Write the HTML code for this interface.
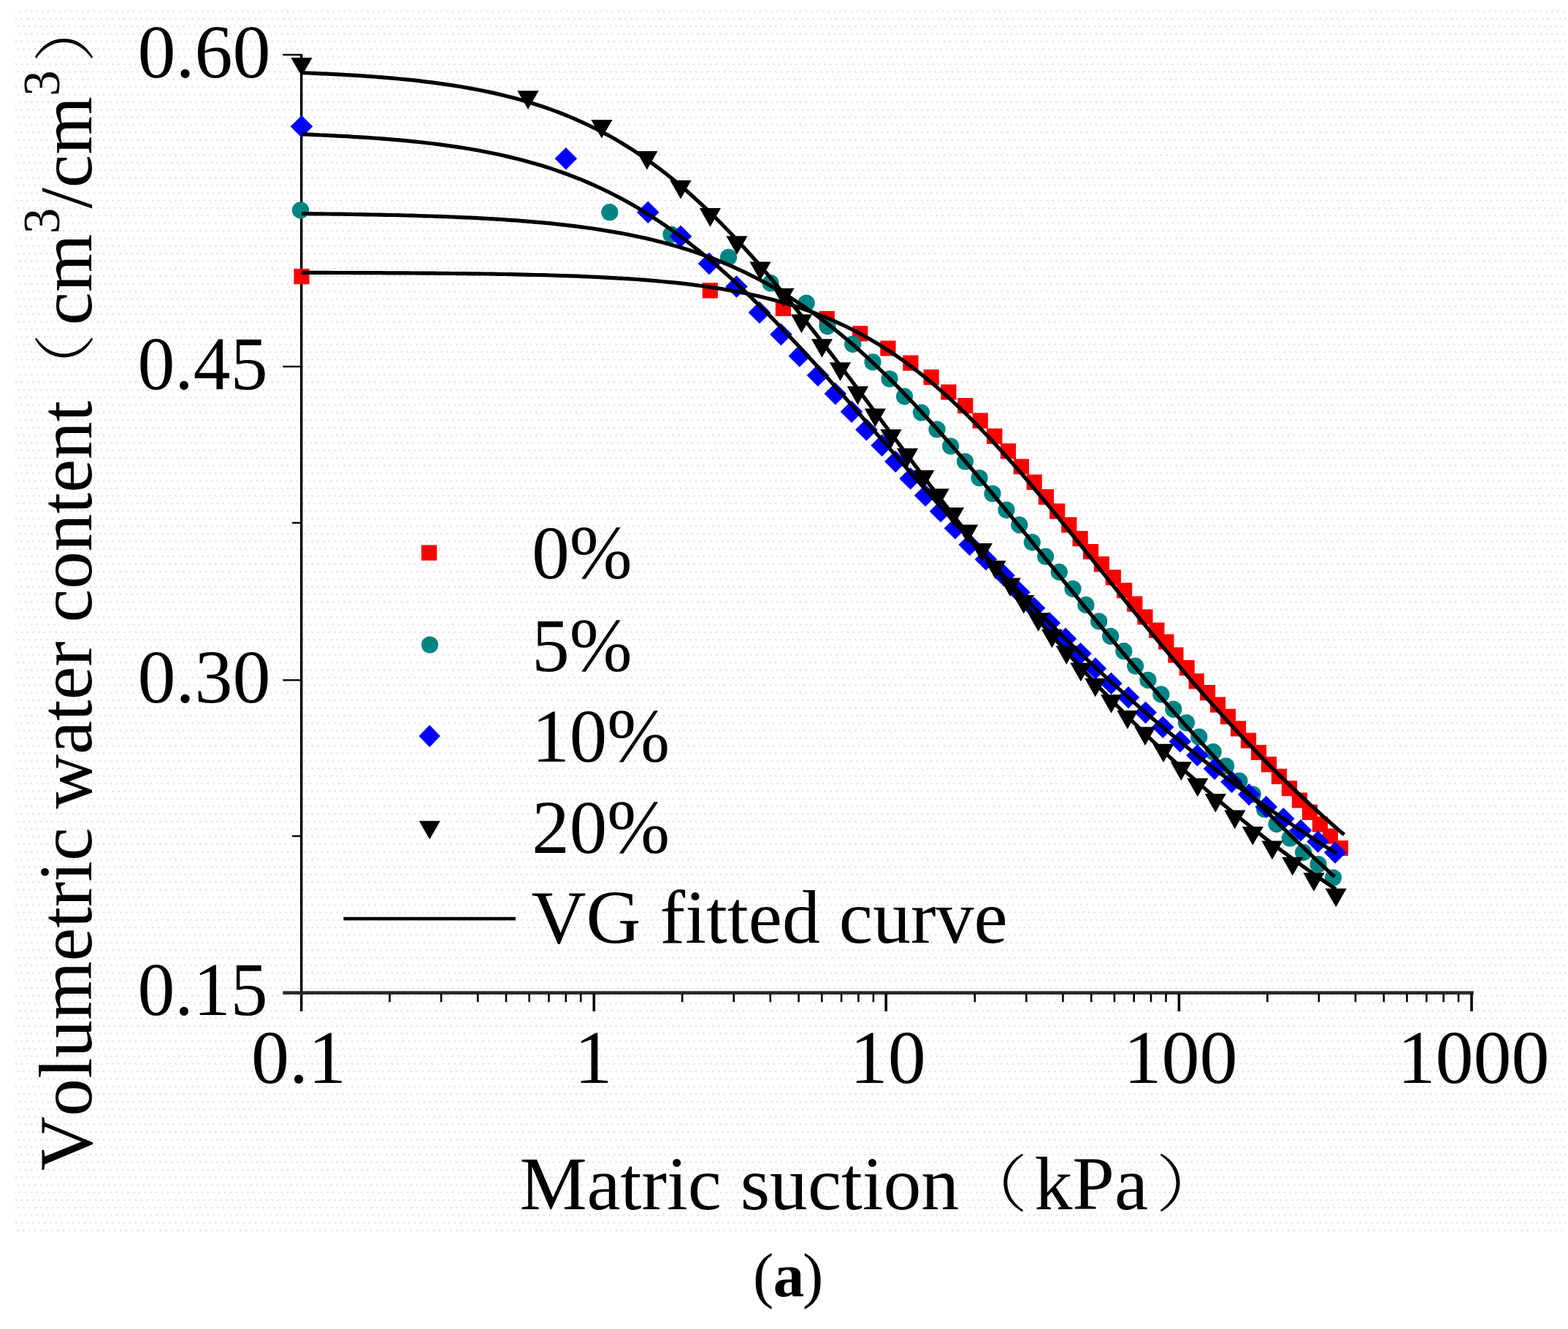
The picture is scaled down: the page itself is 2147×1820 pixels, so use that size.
<!DOCTYPE html>
<html><head><meta charset="utf-8"><title>Volumetric water content vs matric suction</title>
<style>
html,body{margin:0;padding:0;background:#fff;}
body{width:2147px;height:1820px;overflow:hidden;position:relative;}
svg{position:absolute;left:0;top:0;display:block;}
svg text{font-kerning:none;font-feature-settings:"kern" 0;}
</style></head><body>
<svg width="2147" height="1820" viewBox="0 0 2147 1820" font-family="'Liberation Serif', 'Times New Roman', serif">
<defs>
<pattern id="dots" x="0" y="0" width="7.8" height="31.11" patternUnits="userSpaceOnUse">
<rect x="2.55" y="14.05" width="2.7" height="2.7" fill="#e8e8e8"/>
<rect x="5.2" y="24.42" width="2.6" height="2.7" fill="#e8e8e8"/>
<rect x="0.05" y="3.68" width="2.7" height="2.7" fill="#e8e8e8"/>
</pattern>
</defs>
<rect x="0" y="0" width="2147" height="1820" fill="#ffffff"/>
<g fill="#000"><rect x="411" y="74" width="3.4" height="1311"/><rect x="387.3" y="1357.3" width="1630.4" height="4.6" fill="#2a2428"/><rect x="387.3" y="73.8" width="25" height="2.4"/><rect x="387.3" y="500.8" width="25" height="2.4"/><rect x="387.3" y="930.2" width="25" height="2.4"/><rect x="400" y="287.4" width="12" height="2.4"/><rect x="400" y="714.8" width="12" height="2.4"/><rect x="400" y="1143.8" width="12" height="2.4"/><rect x="532.3" y="1361" width="2.6" height="11.3"/><rect x="602.8" y="1361" width="2.6" height="11.3"/><rect x="652.9" y="1361" width="2.6" height="11.3"/><rect x="691.7" y="1361" width="2.6" height="11.3"/><rect x="723.4" y="1361" width="2.6" height="11.3"/><rect x="750.2" y="1361" width="2.6" height="11.3"/><rect x="773.5" y="1361" width="2.6" height="11.3"/><rect x="794" y="1361" width="2.6" height="11.3"/><rect x="932.9" y="1361" width="2.6" height="11.3"/><rect x="1003.4" y="1361" width="2.6" height="11.3"/><rect x="1053.5" y="1361" width="2.6" height="11.3"/><rect x="1092.3" y="1361" width="2.6" height="11.3"/><rect x="1124" y="1361" width="2.6" height="11.3"/><rect x="1150.8" y="1361" width="2.6" height="11.3"/><rect x="1174.1" y="1361" width="2.6" height="11.3"/><rect x="1194.6" y="1361" width="2.6" height="11.3"/><rect x="1333.5" y="1361" width="2.6" height="11.3"/><rect x="1404" y="1361" width="2.6" height="11.3"/><rect x="1454.1" y="1361" width="2.6" height="11.3"/><rect x="1492.9" y="1361" width="2.6" height="11.3"/><rect x="1524.6" y="1361" width="2.6" height="11.3"/><rect x="1551.4" y="1361" width="2.6" height="11.3"/><rect x="1574.7" y="1361" width="2.6" height="11.3"/><rect x="1595.2" y="1361" width="2.6" height="11.3"/><rect x="1734.1" y="1361" width="2.6" height="11.3"/><rect x="1804.6" y="1361" width="2.6" height="11.3"/><rect x="1854.7" y="1361" width="2.6" height="11.3"/><rect x="1893.5" y="1361" width="2.6" height="11.3"/><rect x="1925.2" y="1361" width="2.6" height="11.3"/><rect x="1952" y="1361" width="2.6" height="11.3"/><rect x="1975.3" y="1361" width="2.6" height="11.3"/><rect x="1995.8" y="1361" width="2.6" height="11.3"/><rect x="811.5" y="1361" width="3.6" height="24"/><rect x="1211.4" y="1361" width="3.6" height="24"/><rect x="1612.6" y="1361" width="3.6" height="24"/><rect x="2013.2" y="1361" width="3.6" height="24"/></g>
<g font-size="104"><text x="370.5" y="105.5" text-anchor="end">0.60</text><text x="188.5" y="532.7" textLength="178" lengthAdjust="spacingAndGlyphs">0.45</text><text x="370.5" y="962.3" text-anchor="end">0.30</text><text x="188.5" y="1389.9" textLength="178" lengthAdjust="spacingAndGlyphs">0.15</text><text x="409.1" y="1483.2" text-anchor="middle">0.1</text><text x="812.5" y="1483.2" text-anchor="middle">1</text><text x="1215.7" y="1483.2" text-anchor="middle">10</text><text x="1616.4" y="1483.2" text-anchor="middle">100</text><text x="2017.4" y="1483.2" text-anchor="middle">1000</text></g>
<g>
<path fill="#ff0000" d="M402.4 368h21.2v21.2h-21.2zM961.7 387.2h21.2v21.2h-21.2zM1061.8 411.7h21.2v21.2h-21.2zM1121.7 426.1h21.2v21.2h-21.2zM1167.1 446.3h21.2v21.2h-21.2zM1205.3 466.4h21.2v21.2h-21.2zM1236.3 486.6h21.2v21.2h-21.2zM1264.5 506h21.2v21.2h-21.2zM1288.3 526.4h21.2v21.2h-21.2zM1311.2 545.1h21.2v21.2h-21.2zM1331.6 565.5h21.2v21.2h-21.2zM1351.2 586.7h21.2v21.2h-21.2zM1369.9 607.2h21.2v21.2h-21.2zM1387.8 628.4h21.2v21.2h-21.2zM1405.6 649.7h21.2v21.2h-21.2zM1421.8 670.1h21.2v21.2h-21.2zM1437.1 689.6h21.2v21.2h-21.2zM1453.2 708.3h21.2v21.2h-21.2zM1468.5 727.1h21.2v21.2h-21.2zM1483 744.9h21.2v21.2h-21.2zM1497.8 762.1h21.2v21.2h-21.2zM1513.7 780.3h21.2v21.2h-21.2zM1529 798.1h21.2v21.2h-21.2zM1543.2 816.6h21.2v21.2h-21.2zM1557.3 834.4h21.2v21.2h-21.2zM1573.2 852.5h21.2v21.2h-21.2zM1586.2 868.4h21.2v21.2h-21.2zM1599.3 886.5h21.2v21.2h-21.2zM1614.6 904.1h21.2v21.2h-21.2zM1627.6 922.2h21.2v21.2h-21.2zM1642.9 938.1h21.2v21.2h-21.2zM1656.9 954.5h21.2v21.2h-21.2zM1670.9 970.8h21.2v21.2h-21.2zM1684.9 987.2h21.2v21.2h-21.2zM1698.9 1003.6h21.2v21.2h-21.2zM1712.9 1019.9h21.2v21.2h-21.2zM1726.9 1036.3h21.2v21.2h-21.2zM1740.9 1052.7h21.2v21.2h-21.2zM1754.9 1069.1h21.2v21.2h-21.2zM1768.9 1085.4h21.2v21.2h-21.2zM1782.9 1101.8h21.2v21.2h-21.2zM1796.9 1118.2h21.2v21.2h-21.2zM1810.9 1134.5h21.2v21.2h-21.2zM1824.9 1150.9h21.2v21.2h-21.2z"/>
<g fill="#008585"><circle cx="411.5" cy="287.8" r="11.6"/><circle cx="834.8" cy="290.7" r="11.6"/><circle cx="919" cy="321" r="11.6"/><circle cx="997.5" cy="352.3" r="11.6"/><circle cx="1055.1" cy="387.7" r="11.6"/><circle cx="1104.2" cy="415" r="11.6"/><circle cx="1133" cy="446.8" r="11.6"/><circle cx="1167.6" cy="471.3" r="11.6"/><circle cx="1195" cy="495.8" r="11.6"/><circle cx="1218" cy="518.8" r="11.6"/><circle cx="1238.5" cy="542.9" r="11.6"/><circle cx="1261.5" cy="565" r="11.6"/><circle cx="1283" cy="588" r="11.6"/><circle cx="1301.7" cy="611" r="11.6"/><circle cx="1321.5" cy="632" r="11.6"/><circle cx="1341" cy="654.5" r="11.6"/><circle cx="1359" cy="676" r="11.6"/><circle cx="1378" cy="698.3" r="11.6"/><circle cx="1395.8" cy="718.9" r="11.6"/><circle cx="1413.3" cy="742.6" r="11.6"/><circle cx="1431.6" cy="762.1" r="11.6"/><circle cx="1450.3" cy="783.4" r="11.6"/><circle cx="1469" cy="806.3" r="11.6"/><circle cx="1486.9" cy="828.4" r="11.6"/><circle cx="1504.7" cy="850.9" r="11.6"/><circle cx="1520.6" cy="871.3" r="11.6"/><circle cx="1538.8" cy="891.7" r="11.6"/><circle cx="1554.6" cy="912.1" r="11.6"/><circle cx="1571.9" cy="931.3" r="11.6"/><circle cx="1589.8" cy="950.9" r="11.6"/><circle cx="1606.8" cy="971.3" r="11.6"/><circle cx="1624.5" cy="989.8" r="11.6"/><circle cx="1641.8" cy="1009.2" r="11.6"/><circle cx="1661.2" cy="1029.6" r="11.6"/><circle cx="1678.6" cy="1049" r="11.6"/><circle cx="1696.9" cy="1069.4" r="11.6"/><circle cx="1715.3" cy="1087.8" r="11.6"/><circle cx="1731.6" cy="1108.2" r="11.6"/><circle cx="1748" cy="1128.6" r="11.6"/><circle cx="1766.3" cy="1148" r="11.6"/><circle cx="1784.7" cy="1167.3" r="11.6"/><circle cx="1805.1" cy="1183.7" r="11.6"/><circle cx="1825.5" cy="1202" r="11.6"/></g>
<path fill="#0000ff" d="M413 158l15.3 15.2l-15.3 15.2l-15.3 -15.2zM774.9 202l15.3 15.2l-15.3 15.2l-15.3 -15.2zM887.3 275.5l15.3 15.2l-15.3 15.2l-15.3 -15.2zM932 308.6l15.3 15.2l-15.3 15.2l-15.3 -15.2zM971 345.8l15.3 15.2l-15.3 15.2l-15.3 -15.2zM1008.5 377.3l15.3 15.2l-15.3 15.2l-15.3 -15.2zM1040 412.8l15.3 15.2l-15.3 15.2l-15.3 -15.2zM1069.5 442.8l15.3 15.2l-15.3 15.2l-15.3 -15.2zM1094.8 472.3l15.3 15.2l-15.3 15.2l-15.3 -15.2zM1120 498.8l15.3 15.2l-15.3 15.2l-15.3 -15.2zM1143.9 524l15.3 15.2l-15.3 15.2l-15.3 -15.2zM1166 548.6l15.3 15.2l-15.3 15.2l-15.3 -15.2zM1186.4 573.3l15.3 15.2l-15.3 15.2l-15.3 -15.2zM1207.6 594.8l15.3 15.2l-15.3 15.2l-15.3 -15.2zM1226.3 616.9l15.3 15.2l-15.3 15.2l-15.3 -15.2zM1246.7 640.2l15.3 15.2l-15.3 15.2l-15.3 -15.2zM1267.1 663.4l15.3 15.2l-15.3 15.2l-15.3 -15.2zM1288 685l15.3 15.2l-15.3 15.2l-15.3 -15.2zM1307.9 708.2l15.3 15.2l-15.3 15.2l-15.3 -15.2zM1327.7 730.8l15.3 15.2l-15.3 15.2l-15.3 -15.2zM1350 750.8l15.3 15.2l-15.3 15.2l-15.3 -15.2zM1374.6 772.8l15.3 15.2l-15.3 15.2l-15.3 -15.2zM1395.6 796l15.3 15.2l-15.3 15.2l-15.3 -15.2zM1416 817.6l15.3 15.2l-15.3 15.2l-15.3 -15.2zM1436.9 838l15.3 15.2l-15.3 15.2l-15.3 -15.2zM1459 859.5l15.3 15.2l-15.3 15.2l-15.3 -15.2zM1479.5 879.9l15.3 15.2l-15.3 15.2l-15.3 -15.2zM1499.9 900.3l15.3 15.2l-15.3 15.2l-15.3 -15.2zM1521.4 920.7l15.3 15.2l-15.3 15.2l-15.3 -15.2zM1545 939.9l15.3 15.2l-15.3 15.2l-15.3 -15.2zM1568.6 960.5l15.3 15.2l-15.3 15.2l-15.3 -15.2zM1592.2 980.6l15.3 15.2l-15.3 15.2l-15.3 -15.2zM1615.8 1000.2l15.3 15.2l-15.3 15.2l-15.3 -15.2zM1639.4 1019.2l15.3 15.2l-15.3 15.2l-15.3 -15.2zM1663 1037.6l15.3 15.2l-15.3 15.2l-15.3 -15.2zM1686.6 1055.5l15.3 15.2l-15.3 15.2l-15.3 -15.2zM1710.2 1072.9l15.3 15.2l-15.3 15.2l-15.3 -15.2zM1733.8 1089.8l15.3 15.2l-15.3 15.2l-15.3 -15.2zM1757.4 1106.1l15.3 15.2l-15.3 15.2l-15.3 -15.2zM1781 1122l15.3 15.2l-15.3 15.2l-15.3 -15.2zM1804.6 1137.4l15.3 15.2l-15.3 15.2l-15.3 -15.2zM1828.2 1152.4l15.3 15.2l-15.3 15.2l-15.3 -15.2z"/>
<path fill="#000" d="M398.4 78.9h29.2l-14.6 25.6zM708.4 124.2h29.2l-14.6 25.6zM809.3 164h29.2l-14.6 25.6zM871.3 207h29.2l-14.6 25.6zM917.4 246.9h29.2l-14.6 25.6zM957.8 285.1h29.2l-14.6 25.6zM994.4 323.2h29.2l-14.6 25.6zM1026.4 358.4h29.2l-14.6 25.6zM1058.4 394.7h29.2l-14.6 25.6zM1082.9 430.6h29.2l-14.6 25.6zM1110.9 464.2h29.2l-14.6 25.6zM1135.9 496.2h29.2l-14.6 25.6zM1159.9 528.9h29.2l-14.6 25.6zM1183.7 559.5h29.2l-14.6 25.6zM1205.4 587.9h29.2l-14.6 25.6zM1227.9 614.1h29.2l-14.6 25.6zM1250.1 643.9h29.2l-14.6 25.6zM1270.5 669.3h29.2l-14.6 25.6zM1290.9 694.9h29.2l-14.6 25.6zM1310.1 718.6h29.2l-14.6 25.6zM1329.8 743.9h29.2l-14.6 25.6zM1348.4 767.7h29.2l-14.6 25.6zM1368.6 791.4h29.2l-14.6 25.6zM1387.1 814.9h29.2l-14.6 25.6zM1407.2 839.3h29.2l-14.6 25.6zM1425.9 861.7h29.2l-14.6 25.6zM1445.7 884.4h29.2l-14.6 25.6zM1465.3 907.7h29.2l-14.6 25.6zM1485.2 928.9h29.2l-14.6 25.6zM1507 951.2h29.2l-14.6 25.6zM1529.3 972.9h29.2l-14.6 25.6zM1553.4 995.4h29.2l-14.6 25.6zM1578.4 1018.7h29.2l-14.6 25.6zM1602.7 1043.3h29.2l-14.6 25.6zM1625.2 1065.7h29.2l-14.6 25.6zM1649.7 1087.1h29.2l-14.6 25.6zM1676.2 1109.6h29.2l-14.6 25.6zM1700.7 1132h29.2l-14.6 25.6zM1727.4 1151.6h29.2l-14.6 25.6zM1755.2 1173.7h29.2l-14.6 25.6zM1784.4 1195.2h29.2l-14.6 25.6zM1814.6 1216.7h29.2l-14.6 25.6z"/>
</g>
<g fill="none" stroke="#000" stroke-width="5.2" stroke-linejoin="round"><path d="M413 373.4 L422 373.4 L431 373.4 L439.9 373.4 L448.9 373.4 L457.9 373.5 L466.9 373.5 L475.8 373.5 L484.8 373.6 L493.8 373.6 L502.8 373.6 L511.8 373.7 L520.7 373.7 L529.7 373.8 L538.7 373.8 L547.7 373.9 L556.6 373.9 L565.6 374 L574.6 374.1 L583.6 374.1 L592.6 374.2 L601.5 374.3 L610.5 374.4 L619.5 374.5 L628.5 374.6 L637.4 374.7 L646.4 374.8 L655.4 374.9 L664.4 375 L673.4 375.2 L682.3 375.3 L691.3 375.5 L700.3 375.7 L709.3 375.9 L718.3 376.1 L727.2 376.3 L736.2 376.5 L745.2 376.7 L754.2 377 L763.1 377.3 L772.1 377.6 L781.1 377.9 L790.1 378.2 L799.1 378.6 L808 379 L817 379.4 L826 379.8 L835 380.3 L843.9 380.8 L852.9 381.3 L861.9 381.9 L870.9 382.5 L879.9 383.2 L888.8 383.9 L897.8 384.7 L906.8 385.5 L915.8 386.3 L924.7 387.2 L933.7 388.2 L942.7 389.2 L951.7 390.3 L960.7 391.5 L969.6 392.8 L978.6 394.1 L987.6 395.5 L996.6 397.1 L1005.5 398.7 L1014.5 400.4 L1023.5 402.2 L1032.5 404.2 L1041.5 406.2 L1050.4 408.4 L1059.4 410.7 L1068.4 413.2 L1077.4 415.8 L1086.3 418.6 L1095.3 421.5 L1104.3 424.6 L1113.3 427.8 L1122.3 431.3 L1131.2 434.9 L1140.2 438.7 L1149.2 442.8 L1158.2 447 L1167.2 451.5 L1176.1 456.1 L1185.1 461 L1194.1 466.2 L1203.1 471.6 L1212 477.2 L1221 483 L1230 489.1 L1239 495.5 L1248 502.1 L1256.9 509 L1265.9 516.1 L1274.9 523.5 L1283.9 531.1 L1292.8 539 L1301.8 547.1 L1310.8 555.5 L1319.8 564.1 L1328.8 572.9 L1337.7 582 L1346.7 591.2 L1355.7 600.7 L1364.7 610.4 L1373.6 620.2 L1382.6 630.2 L1391.6 640.4 L1400.6 650.8 L1409.6 661.2 L1418.5 671.9 L1427.5 682.6 L1436.5 693.4 L1445.5 704.3 L1454.4 715.3 L1463.4 726.4 L1472.4 737.5 L1481.4 748.6 L1490.4 759.8 L1499.3 771 L1508.3 782.2 L1517.3 793.5 L1526.3 804.6 L1535.2 815.8 L1544.2 827 L1553.2 838.1 L1562.2 849.1 L1571.2 860.1 L1580.1 871 L1589.1 881.9 L1598.1 892.7 L1607.1 903.4 L1616.1 914 L1625 924.5 L1634 935 L1643 945.3 L1652 955.5 L1660.9 965.6 L1669.9 975.6 L1678.9 985.5 L1687.9 995.3 L1696.9 1005 L1705.8 1014.5 L1714.8 1023.9 L1723.8 1033.2 L1732.8 1042.4 L1741.7 1051.5 L1750.7 1060.4 L1759.7 1069.2 L1768.7 1077.9 L1777.7 1086.5 L1786.6 1095 L1795.6 1103.3 L1804.6 1111.5 L1813.6 1119.6 L1822.5 1127.5 L1831.5 1135.4 L1840.5 1143.1"/><path d="M413 292.6 L421.9 292.7 L430.8 292.8 L439.7 292.9 L448.6 293 L457.5 293.1 L466.4 293.2 L475.3 293.3 L484.2 293.5 L493.1 293.6 L502 293.8 L510.9 294 L519.8 294.1 L528.7 294.3 L537.5 294.5 L546.4 294.7 L555.3 295 L564.2 295.2 L573.1 295.5 L582 295.8 L590.9 296 L599.8 296.4 L608.7 296.7 L617.6 297 L626.5 297.4 L635.4 297.8 L644.3 298.2 L653.2 298.7 L662.1 299.1 L671 299.6 L679.9 300.2 L688.8 300.7 L697.7 301.3 L706.6 301.9 L715.5 302.6 L724.4 303.3 L733.3 304.1 L742.2 304.9 L751.1 305.7 L760 306.6 L768.8 307.6 L777.7 308.6 L786.6 309.7 L795.5 310.8 L804.4 312 L813.3 313.3 L822.2 314.6 L831.1 316.1 L840 317.6 L848.9 319.1 L857.8 320.8 L866.7 322.6 L875.6 324.5 L884.5 326.4 L893.4 328.5 L902.3 330.7 L911.2 333 L920.1 335.5 L929 338.1 L937.9 340.8 L946.8 343.6 L955.7 346.6 L964.6 349.7 L973.5 353 L982.4 356.4 L991.3 360.1 L1000.2 363.8 L1009 367.8 L1017.9 371.9 L1026.8 376.3 L1035.7 380.8 L1044.6 385.5 L1053.5 390.4 L1062.4 395.5 L1071.3 400.8 L1080.2 406.3 L1089.1 412.1 L1098 418 L1106.9 424.1 L1115.8 430.5 L1124.7 437.1 L1133.6 443.9 L1142.5 450.9 L1151.4 458.1 L1160.3 465.5 L1169.2 473.2 L1178.1 481 L1187 489.1 L1195.9 497.3 L1204.8 505.8 L1213.7 514.4 L1222.6 523.2 L1231.5 532.2 L1240.3 541.4 L1249.2 550.7 L1258.1 560.2 L1267 569.8 L1275.9 579.6 L1284.8 589.5 L1293.7 599.5 L1302.6 609.6 L1311.5 619.9 L1320.4 630.3 L1329.3 640.7 L1338.2 651.3 L1347.1 661.9 L1356 672.5 L1364.9 683.3 L1373.8 694.1 L1382.7 704.9 L1391.6 715.8 L1400.5 726.7 L1409.4 737.6 L1418.3 748.6 L1427.2 759.5 L1436.1 770.5 L1445 781.4 L1453.9 792.4 L1462.8 803.3 L1471.7 814.2 L1480.5 825.1 L1489.4 835.9 L1498.3 846.8 L1507.2 857.5 L1516.1 868.3 L1525 879 L1533.9 889.6 L1542.8 900.2 L1551.7 910.7 L1560.6 921.2 L1569.5 931.6 L1578.4 942 L1587.3 952.2 L1596.2 962.5 L1605.1 972.6 L1614 982.7 L1622.9 992.7 L1631.8 1002.6 L1640.7 1012.5 L1649.6 1022.2 L1658.5 1031.9 L1667.4 1041.5 L1676.3 1051.1 L1685.2 1060.5 L1694.1 1069.9 L1703 1079.2 L1711.8 1088.4 L1720.7 1097.6 L1729.6 1106.6 L1738.5 1115.6 L1747.4 1124.5 L1756.3 1133.3 L1765.2 1142 L1774.1 1150.7 L1783 1159.2 L1791.9 1167.7 L1800.8 1176.1 L1809.7 1184.4 L1818.6 1192.7 L1827.5 1200.8"/><path d="M413 183.9 L421.9 184.2 L430.8 184.6 L439.7 185 L448.6 185.4 L457.6 185.8 L466.5 186.3 L475.4 186.7 L484.3 187.3 L493.2 187.8 L502.1 188.4 L511 189 L519.9 189.6 L528.9 190.3 L537.8 191.1 L546.7 191.8 L555.6 192.7 L564.5 193.6 L573.4 194.5 L582.3 195.5 L591.2 196.5 L600.2 197.6 L609.1 198.8 L618 200.1 L626.9 201.4 L635.8 202.8 L644.7 204.2 L653.6 205.8 L662.5 207.5 L671.4 209.2 L680.4 211 L689.3 213 L698.2 215.1 L707.1 217.2 L716 219.5 L724.9 221.9 L733.8 224.5 L742.7 227.1 L751.7 229.9 L760.6 232.9 L769.5 236 L778.4 239.3 L787.3 242.7 L796.2 246.2 L805.1 250 L814 253.9 L822.9 258 L831.9 262.3 L840.8 266.8 L849.7 271.4 L858.6 276.3 L867.5 281.3 L876.4 286.6 L885.3 292.1 L894.2 297.7 L903.2 303.6 L912.1 309.6 L921 315.9 L929.9 322.4 L938.8 329.1 L947.7 336 L956.6 343.1 L965.5 350.3 L974.5 357.8 L983.4 365.5 L992.3 373.4 L1001.2 381.4 L1010.1 389.6 L1019 398 L1027.9 406.6 L1036.8 415.3 L1045.7 424.2 L1054.7 433.2 L1063.6 442.3 L1072.5 451.6 L1081.4 461 L1090.3 470.5 L1099.2 480.1 L1108.1 489.8 L1117 499.6 L1126 509.5 L1134.9 519.5 L1143.8 529.5 L1152.7 539.5 L1161.6 549.6 L1170.5 559.8 L1179.4 570 L1188.3 580.2 L1197.3 590.4 L1206.2 600.6 L1215.1 610.9 L1224 621.1 L1232.9 631.3 L1241.8 641.5 L1250.7 651.7 L1259.6 661.9 L1268.5 672 L1277.5 682.1 L1286.4 692.1 L1295.3 702.1 L1304.2 712.1 L1313.1 722 L1322 731.9 L1330.9 741.7 L1339.8 751.4 L1348.8 761.1 L1357.7 770.7 L1366.6 780.2 L1375.5 789.7 L1384.4 799.1 L1393.3 808.5 L1402.2 817.7 L1411.1 826.9 L1420.1 836 L1429 845 L1437.9 853.9 L1446.8 862.8 L1455.7 871.6 L1464.6 880.3 L1473.5 888.9 L1482.4 897.4 L1491.3 905.9 L1500.3 914.3 L1509.2 922.6 L1518.1 930.8 L1527 938.9 L1535.9 946.9 L1544.8 954.9 L1553.7 962.8 L1562.6 970.6 L1571.6 978.3 L1580.5 985.9 L1589.4 993.5 L1598.3 1000.9 L1607.2 1008.3 L1616.1 1015.6 L1625 1022.9 L1633.9 1030 L1642.8 1037.1 L1651.8 1044.1 L1660.7 1051 L1669.6 1057.9 L1678.5 1064.6 L1687.4 1071.3 L1696.3 1077.9 L1705.2 1084.5 L1714.1 1090.9 L1723.1 1097.3 L1732 1103.7 L1740.9 1109.9 L1749.8 1116.1 L1758.7 1122.2 L1767.6 1128.3 L1776.5 1134.2 L1785.4 1140.2 L1794.4 1146 L1803.3 1151.8 L1812.2 1157.5 L1821.1 1163.1 L1830 1168.7"/><path d="M413 99.7 L421.9 100 L430.8 100.4 L439.7 100.8 L448.6 101.2 L457.5 101.6 L466.4 102.1 L475.3 102.6 L484.2 103.1 L493.2 103.7 L502.1 104.3 L511 105 L519.9 105.6 L528.8 106.4 L537.7 107.1 L546.6 108 L555.5 108.8 L564.4 109.7 L573.3 110.7 L582.2 111.8 L591.1 112.9 L600 114.1 L608.9 115.3 L617.8 116.6 L626.7 118 L635.6 119.5 L644.5 121.1 L653.5 122.8 L662.4 124.5 L671.3 126.4 L680.2 128.4 L689.1 130.5 L698 132.7 L706.9 135.1 L715.8 137.6 L724.7 140.2 L733.6 142.9 L742.5 145.8 L751.4 148.9 L760.3 152.1 L769.2 155.5 L778.1 159.1 L787 162.9 L795.9 166.8 L804.8 171 L813.8 175.3 L822.7 179.9 L831.6 184.6 L840.5 189.6 L849.4 194.8 L858.3 200.2 L867.2 205.9 L876.1 211.8 L885 217.9 L893.9 224.3 L902.8 230.9 L911.7 237.8 L920.6 244.9 L929.5 252.2 L938.4 259.8 L947.3 267.7 L956.2 275.8 L965.2 284.1 L974.1 292.7 L983 301.5 L991.9 310.5 L1000.8 319.7 L1009.7 329.2 L1018.6 338.9 L1027.5 348.7 L1036.4 358.8 L1045.3 369.1 L1054.2 379.5 L1063.1 390.1 L1072 400.9 L1080.9 411.8 L1089.8 422.8 L1098.7 434 L1107.6 445.3 L1116.5 456.7 L1125.5 468.1 L1134.4 479.7 L1143.3 491.4 L1152.2 503.1 L1161.1 514.9 L1170 526.7 L1178.9 538.5 L1187.8 550.4 L1196.7 562.3 L1205.6 574.2 L1214.5 586.1 L1223.4 598 L1232.3 609.9 L1241.2 621.8 L1250.1 633.6 L1259 645.4 L1267.9 657.2 L1276.8 668.9 L1285.8 680.5 L1294.7 692.1 L1303.6 703.6 L1312.5 715.1 L1321.4 726.5 L1330.3 737.8 L1339.2 749.1 L1348.1 760.2 L1357 771.3 L1365.9 782.3 L1374.8 793.1 L1383.7 803.9 L1392.6 814.6 L1401.5 825.3 L1410.4 835.8 L1419.3 846.2 L1428.2 856.5 L1437.2 866.7 L1446.1 876.8 L1455 886.8 L1463.9 896.7 L1472.8 906.5 L1481.7 916.2 L1490.6 925.8 L1499.5 935.3 L1508.4 944.7 L1517.3 953.9 L1526.2 963.1 L1535.1 972.2 L1544 981.1 L1552.9 990 L1561.8 998.8 L1570.7 1007.4 L1579.6 1016 L1588.5 1024.4 L1597.5 1032.8 L1606.4 1041.1 L1615.3 1049.2 L1624.2 1057.3 L1633.1 1065.3 L1642 1073.1 L1650.9 1080.9 L1659.8 1088.6 L1668.7 1096.2 L1677.6 1103.7 L1686.5 1111.1 L1695.4 1118.4 L1704.3 1125.6 L1713.2 1132.7 L1722.1 1139.8 L1731 1146.7 L1739.9 1153.6 L1748.8 1160.4 L1757.8 1167.1 L1766.7 1173.7 L1775.6 1180.2 L1784.5 1186.7 L1793.4 1193 L1802.3 1199.3 L1811.2 1205.5 L1820.1 1211.7 L1829 1217.7"/></g>
<!-- legend -->
<g>
<rect x="577" y="746.4" width="21.2" height="21.2" fill="#ff0000"/>
<circle cx="588.5" cy="883" r="11.6" fill="#008585"/>
<path d="M588.2 992.8l14.6 15.2l-14.6 15.2l-14.6 -15.2z" fill="#0000ff"/>
<path d="M573.8 1124.2h29l-14.5 25.4z" fill="#000"/>
<rect x="470.4" y="1255.8" width="235.5" height="4.6" fill="#000"/>
</g>
<g font-size="103">
<text x="728.3" y="791.5">0%</text>
<text x="728.3" y="918.8">5%</text>
<text x="728.3" y="1043.4">10%</text>
<text x="728.3" y="1168.2">20%</text>
<text x="727.6" y="1290.8" font-size="103.9">VG fitted curve</text>
</g>
<!-- axis titles -->
<text x="711.4" y="1655.9" font-size="103.7">Matric suction</text>
<text x="0" y="0" font-size="84.9" font-family="'Noto Serif CJK SC', 'Liberation Serif', serif" font-weight="200" transform="translate(1311.6 1652.2) scale(1.13 1)">（</text>
<text x="1416.5" y="1655.9" font-size="103.7">kPa</text>
<text x="0" y="0" font-size="84.9" font-family="'Noto Serif CJK SC', 'Liberation Serif', serif" font-weight="200" transform="translate(1582.5 1652.2) scale(1.13 1)">）</text>
<g transform="translate(125 1603.2) rotate(-90)">
<text x="0" y="0" font-size="103.2">Volumetric water content</text>
<text x="1157.8" y="0" font-size="102.5">cm<tspan x="1283" dy="-43.6" font-size="71">3</tspan><tspan x="1317.6" dy="43.6">/cm</tspan><tspan x="1471.35" dy="-43.6" font-size="71">3</tspan></text>
</g>
<text x="0" y="0" font-size="84.9" font-family="'Noto Serif CJK SC', 'Liberation Serif', serif" font-weight="200" transform="translate(119.5 552.2) rotate(-90) scale(1.13 1)">（</text>
<text x="0" y="0" font-size="84.9" font-family="'Noto Serif CJK SC', 'Liberation Serif', serif" font-weight="200" transform="translate(119.5 86) rotate(-90) scale(1.13 1)">）</text>
<!-- caption -->
<text x="1031.1" y="1774.6" font-size="85">(<tspan font-weight="bold" dx="-0.6">a</tspan><tspan dx="-2.2">)</tspan></text>
<rect x="20" y="8" width="2125" height="1679" fill="url(#dots)" style="mix-blend-mode:multiply"/>
</svg>
</body></html>
